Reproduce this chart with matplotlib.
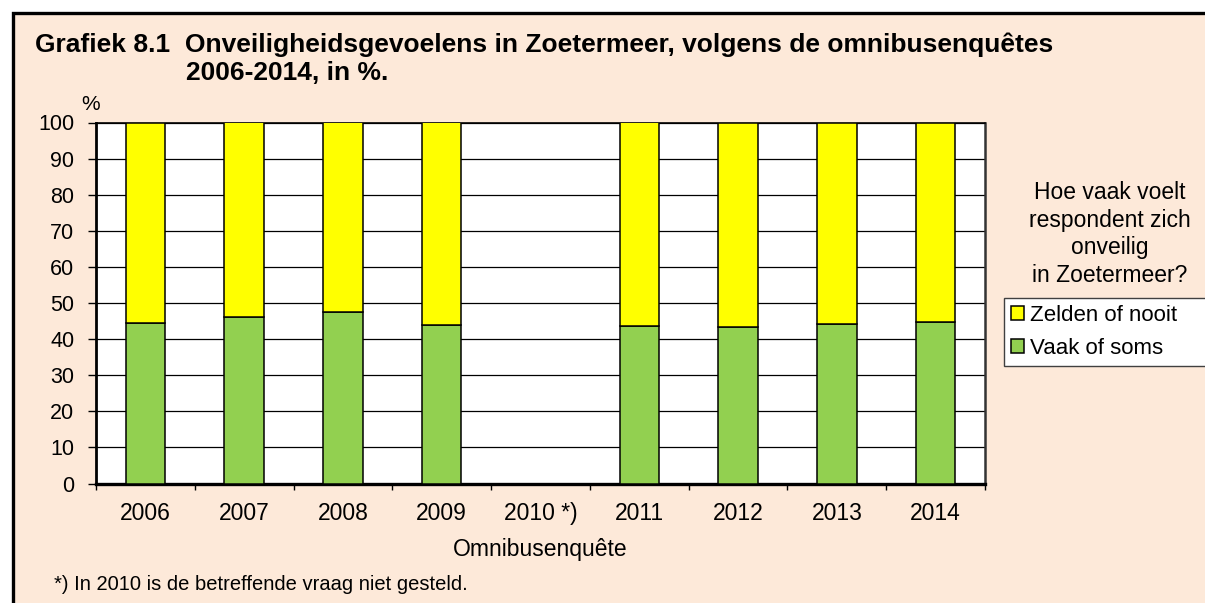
import numpy as np
import matplotlib
matplotlib.use("Agg")
import matplotlib.pyplot as plt
from matplotlib.patches import Rectangle

plt.rcParams["font.family"] = ["Liberation Sans", "DejaVu Sans"]

# -------------------------------------------------
# DATA
# -------------------------------------------------
jaren = ["2006", "2007", "2008", "2009", "2010 *)", "2011", "2012", "2013", "2014"]
vaak_of_soms = [44.5, 46.0, 47.5, 44.0, np.nan, 43.7, 43.3, 44.3, 44.8]
zelden_of_nooit = [55.5, 54.0, 52.5, 56.0, np.nan, 56.3, 56.7, 55.7, 55.2]
yticks = list(range(0, 101, 10))

PEACH = "#FDE9D9"
GREEN = "#92D050"
YELLOW = "#FFFF00"

W, H = 1205, 603
fig = plt.figure(figsize=(W / 100, H / 100), dpi=100, facecolor="white")

# achtergrondkader (linker- en bovenrand zichtbaar)
frame = Rectangle((12.5 / W, -0.1), 1.2, 1 - 12.5 / H + 0.1, transform=fig.transFigure,
                  facecolor=PEACH, edgecolor="black", linewidth=2.4, zorder=-10)
fig.patches.append(frame)

ax = fig.add_axes([96 / W, 1 - 483.5 / H, (985 - 96) / W, (483.5 - 122.5) / H])
ax.set_zorder(1)
ax.set_facecolor("white")

x = np.arange(len(jaren))
b1 = ax.bar(x, vaak_of_soms, width=0.4, color=GREEN, edgecolor="black", linewidth=1.1,
            zorder=3, label="Vaak of soms")
b2 = ax.bar(x, zelden_of_nooit, width=0.4, bottom=vaak_of_soms, color=YELLOW,
            edgecolor="black", linewidth=1.1, zorder=3, label="Zelden of nooit")

ax.set_xlim(-0.5, len(jaren) - 0.5)
ax.set_ylim(0, 100)
ax.set_yticks(yticks)
ax.tick_params(axis="y", direction="out", length=5.5, width=1, pad=10, labelsize=15.5)
ax.grid(True, axis="y", color="black", linewidth=0.9, zorder=1)
ax.set_axisbelow(True)

ax.set_xticks(x)
ax.set_xticklabels(jaren)
ax.tick_params(axis="x", which="major", length=0, pad=13, labelsize=16.5)
ax.set_xticks(np.arange(-0.5, len(jaren), 1.0), minor=True)
ax.tick_params(axis="x", which="minor", direction="out", length=4.5, width=1)

ax.spines["left"].set_linewidth(2)
ax.spines["bottom"].set_linewidth(2.4)
ax.spines["top"].set_linewidth(1.2)
ax.spines["right"].set_linewidth(1.8)
ax.spines["right"].set_color("#333333")

ax.set_xlabel("Omnibusenquête", fontsize=16.5, labelpad=9.5)

# titel
fig.text(35 / W, 1 - 45 / H, "Grafiek 8.1  Onveiligheidsgevoelens in Zoetermeer, volgens de omnibusenquêtes",
         fontsize=19, fontweight="bold", ha="left", va="center")
fig.text(186 / W, 1 - 73 / H, "2006-2014, in %.", fontsize=19, fontweight="bold",
         ha="left", va="center")

fig.text(91 / W, 1 - 104 / H, "%", fontsize=15, ha="center", va="center")

# legenda
fig.text(1110 / W, 1 - 234 / H, "Hoe vaak voelt\nrespondent zich\nonveilig\nin Zoetermeer?",
         fontsize=16.5, ha="center", va="center", linespacing=1.25)
leg = fig.legend([b2, b1], ["Zelden of nooit", "Vaak of soms"],
                 bbox_to_anchor=(1004 / W, 1 - 363 / H, 0.2, 65 / H), loc="upper left",
                 mode="expand", borderaxespad=0, fontsize=16, handlelength=0.6,
                 handleheight=0.6, handletextpad=0.25, labelspacing=0.55, borderpad=0.3,
                 frameon=True, fancybox=False, edgecolor="#404040", facecolor="white",
                 framealpha=1)
leg.get_frame().set_linewidth(1)

# voetnoot
fig.text(54 / W, 1 - 585 / H, "*) In 2010 is de betreffende vraag niet gesteld.",
         fontsize=14.5, ha="left", va="center")

fig.savefig("out.png", dpi=100, facecolor=fig.get_facecolor())
